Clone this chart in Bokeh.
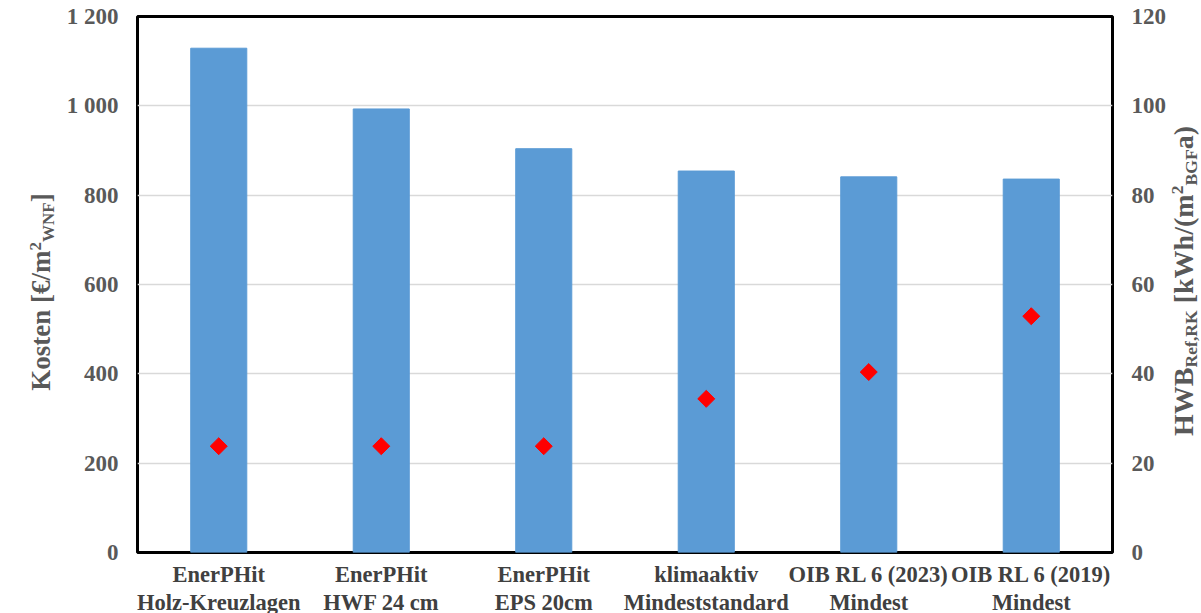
import math
from bokeh.plotting import figure
from bokeh.layouts import row
from bokeh.models import Range1d, LinearAxis, FixedTicker, FactorRange, ColumnDataSource, Div
from bokeh.embed import file_html
from bokeh.resources import INLINE

# ---------------- data ----------------
categories = [
    "EnerPHit\nHolz-Kreuzlagen",
    "EnerPHit\nHWF 24 cm",
    "EnerPHit\nEPS 20cm",
    "klimaaktiv\nMindeststandard",
    "OIB RL 6 (2023)\nMindest",
    "OIB RL 6 (2019)\nMindest",
]
kosten = [1129, 993, 904, 854, 841, 836]          # €/m² WNF (left axis)
hwb = [23.8, 23.8, 23.8, 34.4, 40.4, 52.9]         # kWh/(m² BGF a) (right axis)
left_ticks = [0, 200, 400, 600, 800, 1000, 1200]
left_tick_labels = ["0", "200", "400", "600", "800", "1 000", "1 200"]
right_ticks = [0, 20, 40, 60, 80, 100, 120]

# ---------------- styles ----------------
FONT = "Liberation Serif"
GRAY = "#595959"
BAR = "#5b9bd5"
H = 613
LEFT_W = 60
RIGHT_W = 34

src = ColumnDataSource(dict(cat=categories, kosten=kosten, hwb=hwb))

p = figure(
    x_range=FactorRange(*categories, range_padding=0),
    y_range=Range1d(0, 1200),
    frame_width=975, frame_height=536,
    min_border_left=77, min_border_right=55, min_border_top=16, min_border_bottom=61,
    output_backend="svg", toolbar_location=None,
)
p.background_fill_color = "white"
p.border_fill_color = "white"
p.outline_line_color = "black"
p.outline_line_width = 3
p.outline_line_alpha = 1.0

p.extra_y_ranges = {"hwb": Range1d(0, 120)}
rax = LinearAxis(y_range_name="hwb", ticker=FixedTicker(ticks=right_ticks))
p.add_layout(rax, "right")

p.yaxis[0].ticker = FixedTicker(ticks=left_ticks)
p.yaxis[0].major_label_overrides = {t: l for t, l in zip(left_ticks, left_tick_labels)}

for ax in [p.yaxis[0], rax, p.xaxis[0]]:
    ax.axis_line_color = None
    ax.major_tick_line_color = None
    ax.minor_tick_line_color = None
    ax.major_tick_out = 0
    ax.major_tick_in = 0
    ax.major_label_text_font = FONT
    ax.major_label_text_font_style = "bold"

for ax in [p.yaxis[0], rax]:
    ax.major_label_text_font_size = "23px"
    ax.major_label_text_color = GRAY
    ax.major_label_standoff = 19

p.xaxis[0].major_label_text_font_size = "22.5px"
p.xaxis[0].major_label_text_color = "#404040"
p.xaxis[0].major_label_text_line_height = 1.14
p.xaxis[0].major_label_standoff = 9
p.xaxis[0].major_label_orientation = "horizontal"

p.xgrid.grid_line_color = None
p.ygrid.ticker = FixedTicker(ticks=left_ticks)
p.ygrid.grid_line_color = "#d9d9d9"
p.ygrid.grid_line_width = 1.5

p.vbar(x="cat", top="kosten", width=0.345, source=src, fill_color=BAR, line_color=BAR)
p.scatter(x="cat", y="hwb", source=src, y_range_name="hwb", marker="square",
          angle=math.pi / 4, size=12, fill_color="red", line_color="red")


# ---------------- rotated axis titles (HTML with sub/superscripts) ----------------
def sup(t):
    return f'<span style="font-size:0.63em;position:relative;top:-0.55em;">{t}</span>'


def sub(t):
    return f'<span style="font-size:0.63em;position:relative;top:0.22em;">{t}</span>'


def title_div(w, html, cx, cy, size):
    inner = (
        f'<div style="position:relative;width:{w}px;height:{H}px;overflow:visible;">'
        f'<div style="position:absolute;left:{cx}px;top:{cy}px;'
        f'transform:translate(-50%,-50%) rotate(-90deg);white-space:nowrap;'
        f"font-family:'{FONT}',serif;font-weight:bold;font-size:{size}px;line-height:1;"
        f'color:{GRAY};">{html}</div></div>'
    )
    return Div(text=inner, width=w, height=H, margin=0,
               styles={"overflow": "visible"})


left_title = "Kosten [€/m" + sup("2") + sub("WNF") + "]"
right_title = "HWB" + sub("Ref,RK") + " [kWh/(m" + sup("2") + sub("BGF") + "a)"

left = title_div(LEFT_W, left_title, 41, 292, 27)
right = title_div(RIGHT_W, right_title, 15, 281, 28)

layout = row(left, p, right)
open("out.html", "w").write(file_html(layout, INLINE))
